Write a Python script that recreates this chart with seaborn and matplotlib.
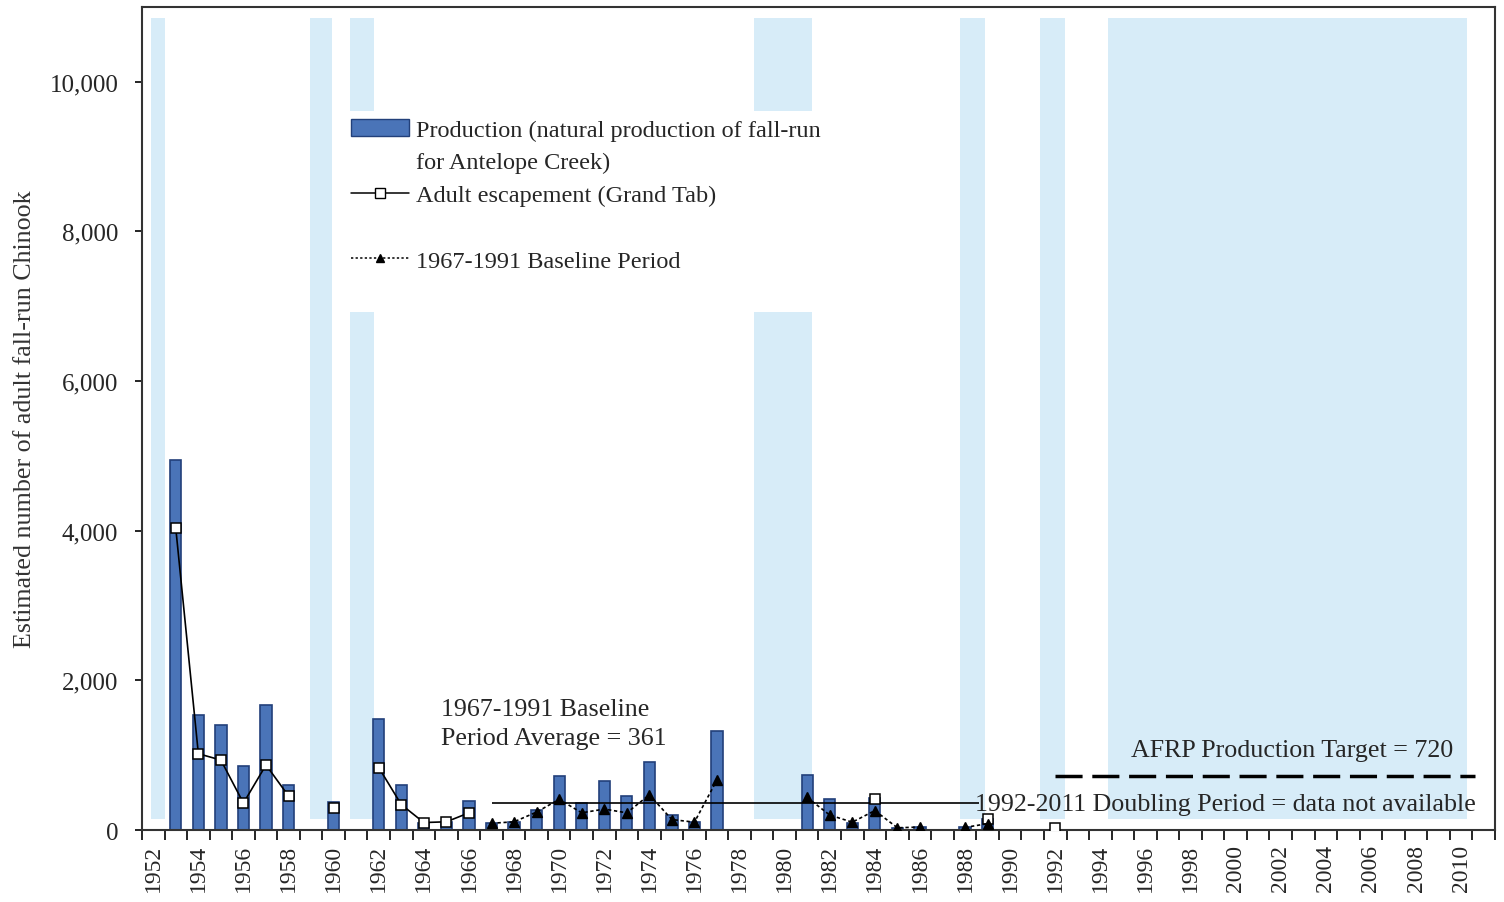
import numpy as np
import pandas as pd
import matplotlib
matplotlib.use("Agg")
import matplotlib.pyplot as plt
from matplotlib.patches import Patch
from matplotlib.lines import Line2D
import seaborn as sns

# --- data -----------------------------------------------------------------
all_years = list(range(1952, 2012))

production_years = [1953, 1954, 1955, 1956, 1957, 1958, 1960, 1962, 1963, 1964,
                    1965, 1966, 1967, 1968, 1969, 1970, 1971, 1972, 1973, 1974,
                    1975, 1976, 1977, 1981, 1982, 1983, 1984, 1985, 1986, 1988,
                    1989]
production = [4950, 1540, 1410, 850, 1670, 600, 370, 1480, 600, 100,
              110, 390, 90, 110, 270, 720, 360, 660, 460, 910,
              200, 110, 1330, 740, 420, 100, 430, 30, 40, 35,
              150]

escapement_years = [1953, 1954, 1955, 1956, 1957, 1958, 1960, 1962, 1963, 1964,
                    1965, 1966, 1984, 1989, 1992]
escapement = [4030, 1020, 935, 360, 870, 455, 295, 835, 340, 100,
              110, 230, 420, 150, 30]

baseline_years = [1967, 1968, 1969, 1970, 1971, 1972, 1973, 1974, 1975, 1976,
                  1977, 1981, 1982, 1983, 1984, 1985, 1986, 1988, 1989]
baseline = [90, 110, 240, 410, 230, 280, 230, 470, 140, 105,
            670, 435, 200, 105, 260, 30, 40, 35, 85]

# shaded water-year bands (start, end in years)
band_starts = [1951.89, 1958.94, 1960.71, 1978.63, 1987.76, 1991.31, 1994.32]
band_ends = [1952.51, 1959.92, 1961.78, 1981.20, 1988.87, 1992.42, 2010.24]
band_low, band_high = 150, 10850

baseline_average = 361
baseline_avg_span = (1967.0, 1988.6)
afrp_target = 720
afrp_span = (1992.0, 2010.6)

# --- styling --------------------------------------------------------------
sns.set_theme(style="white")
plt.rcParams["font.family"] = ["Liberation Serif", "DejaVu Serif"]

bar_color = "#4A74B8"
bar_edge = "#22407A"
band_color = "#D7ECF8"
note_size = 18.7

fig = plt.figure(figsize=(15.04, 9.03), dpi=100)
ax = fig.add_axes([0.0944, 0.0797, 0.8996, 0.9115])

for s, e in zip(band_starts, band_ends):
    ax.axvspan(s, e, ymin=band_low / 11000, ymax=band_high / 11000,
               color=band_color, lw=0, zorder=0)

prod_df = pd.DataFrame({"year": production_years, "production": production})
sns.barplot(data=prod_df, x="year", y="production", native_scale=True,
            width=0.5, color=bar_color, saturation=1, edgecolor=bar_edge,
            linewidth=1.2, errorbar=None, ax=ax, zorder=2)

esc = pd.Series(escapement, index=escapement_years).reindex(all_years)
base = pd.Series(baseline, index=baseline_years).reindex(range(1967, 1992))

ax.plot(esc.index, esc.values, color="black", lw=1.2, marker="s",
        mfc="white", mec="black", mew=1.1, ms=7, zorder=4)
ax.plot(base.index, base.values, color="black", lw=1.2, ls=(0, (2, 1.6)),
        marker="^", mfc="black", mec="black", ms=7, zorder=4)

ax.hlines(baseline_average, *baseline_avg_span, color="black", lw=1.2, zorder=3)
ax.hlines(afrp_target, *afrp_span, color="black", lw=2.5,
          linestyles=[(0, (7.8, 2.8))], zorder=3)

ax.text(1964.75, 1420, "1967-1991 Baseline\nPeriod Average = 361",
        fontsize=note_size, ha="left", va="center", linespacing=1.42, zorder=6)
ax.text(2009.65, 1067, "AFRP Production Target = 720", fontsize=note_size,
        ha="right", va="center", zorder=6)
ax.text(2010.65, 347, "1992-2011 Doubling Period = data not available",
        fontsize=note_size, ha="right", va="center", zorder=6)

# --- axes -----------------------------------------------------------------
ax.set_xlim(1951.5, 2011.5)
ax.set_ylim(0, 11000)
ax.set_xticks(range(1952, 2012, 2))
ax.set_xticklabels([str(y) for y in range(1952, 2012, 2)], rotation=90,
                   fontsize=17)
ax.set_xticks(np.arange(1951.5, 2012, 1), minor=True)
ax.tick_params(axis="x", which="major", length=0, pad=10)
ax.tick_params(axis="x", which="minor", direction="out", length=7,
               width=1.2, color="black", bottom=True)
ax.set_yticks(range(0, 10001, 2000))
ax.set_yticklabels([f"{v:,}" for v in range(0, 10001, 2000)], fontsize=18)
ax.tick_params(axis="y", direction="out", length=5, width=1.2,
               color="black", left=True, pad=12)
ax.set_xlabel("")
ax.set_ylabel("Estimated number of adult fall-run Chinook", fontsize=18.7,
              labelpad=10, color="#333333")
for sp in ax.spines.values():
    sp.set_color("#333333")
    sp.set_linewidth(1.5)

blank = Line2D([], [], ls="none")
handles = [
    Patch(facecolor=bar_color, edgecolor=bar_edge),
    blank,
    Line2D([], [], color="black", lw=1.1, marker="s", mfc="white",
           mec="black", ms=7),
    blank,
    Line2D([], [], color="black", lw=1.1, ls=(0, (1.5, 1.5)), marker="^",
           mfc="black", ms=6),
    blank,
]
labels = [
    "Production (natural production of fall-run",
    "for Antelope Creek)",
    "Adult escapement (Grand Tab)",
    "",
    "1967-1991 Baseline Period",
    "",
]
leg = ax.legend(handles, labels, loc="upper left",
                bbox_to_anchor=(0.149, 0.873), fontsize=17.5, frameon=True,
                facecolor="white", edgecolor="none", framealpha=1,
                handlelength=2.4, handletextpad=0.3, labelspacing=0.44,
                borderpad=0.3, borderaxespad=0)

fig.savefig("out.png", dpi=100)
